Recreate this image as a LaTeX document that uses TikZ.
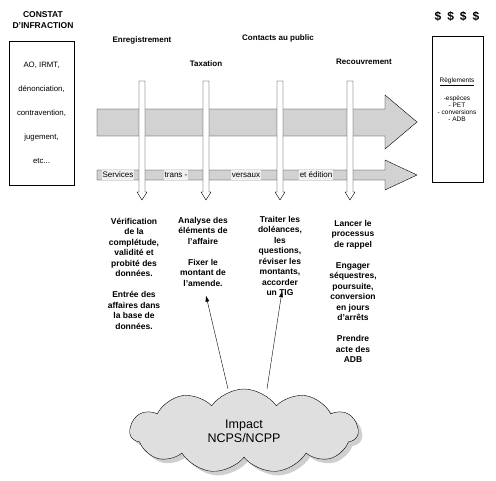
\documentclass[tikz,border=0pt]{standalone}
\usepackage{fontspec}
\setmainfont{Liberation Sans}
\usetikzlibrary{positioning,shapes.symbols,shadows,arrows.meta,calc}

\tikzset{
  band/.style={draw,fill=gray!35},
  pipe/.style={draw,fill=white},
  phase/.style={font=\bfseries\fontsize{8}{9.5}\selectfont},
  task/.style={align=center,anchor=north,inner sep=1pt,font=\bfseries\fontsize{8.5}{10.5}\selectfont},
  tag/.style={fill=gray!12,inner sep=1pt,text height=6pt,text depth=1.5pt,font=\fontsize{8}{9}\selectfont},
  impact/.style={-{Latex[length=6pt,width=4pt]}}
}

\begin{document}
\begin{tikzpicture}[x=1pt,y=-1pt]
\useasboundingbox (0,0) rectangle (496,480);
% boxes left and right
\node (constat) [align=center,font=\bfseries\fontsize{8.5}{10.5}\selectfont] at (43,20) {CONSTAT\\D'INFRACTION};
\node (sources) [draw,minimum width=65pt,minimum height=144pt,align=center,font=\fontsize{7.8}{24}\selectfont] at (41.5,113) {AO, IRMT,\\dénonciation,\\contravention,\\jugement,\\etc...};
\node (dollars) [font=\bfseries\fontsize{12}{14}\selectfont] at (457,16) {\$\hspace{6pt}\$\hspace{6pt}\$\hspace{6pt}\$};
\node (caisse) [draw,minimum width=51pt,minimum height=146pt] at (457.5,109) {};
\node (regl) [align=center,anchor=north,font=\fontsize{6.5}{7}\selectfont] at (457,74) {\underline{Règlements}\\[9pt]-espèces\\- PET\\- conversions\\- ADB};
% the two bands
\draw[band] (97,109) -- (385,109) -- (385,95) -- (417,122) -- (385,149) -- (385,136) -- (97,136) -- cycle;
\draw[band] (97,170) -- (385,170) -- (385,160) -- (417,175) -- (385,190) -- (385,180) -- (97,180) -- cycle;
\node[tag] (services) at (118,175) {Services};
\node[tag] (trans) at (176,175) {trans -};
\node[tag] (versaux) at (246,175) {versaux};
\node[tag] (edition) at (316,175) {et édition};
% phases
\foreach \c in {142,206,280,350}
  \draw[pipe] (\c-3,81) -- (\c+3,81) -- (\c+3,192) -- (\c+5,192) -- (\c,200) -- (\c-5,192) -- (\c-3,192) -- cycle;
\node[phase] (enreg) at (142,40) {Enregistrement};
\node[phase] (taxation) at (206,64) {Taxation};
\node[phase] (contact) at (278,38) {Contacts au public};
\node[phase] (recouv) at (364,62) {Recouvrement};
% tasks
\node[task] (verif) at (134,217) {Vérification\\de la\\complétude,\\validité et\\probité des\\données.\\[10.5pt]Entrée des\\affaires dans\\la base de\\données.};
\node[task] (analyse) at (203,216) {Analyse des\\éléments de\\l'affaire\\[10.5pt]Fixer le\\montant de\\l'amende.};
\node[task] (traiter) at (280,215) {Traiter les\\doléances,\\les\\questions,\\réviser les\\montants,\\accorder\\un TIG};
\node[task] (rappel) at (353,219) {Lancer le\\processus\\de rappel\\[10.5pt]Engager\\séquestres,\\poursuite,\\conversion\\en jours\\d'arrêts\\[10.5pt]Prendre\\acte des\\ADB};
% impact
\node (cloud) [cloud,cloud puffs=11,cloud puff arc=110,aspect=2.7,minimum width=228pt,minimum height=84pt,draw,fill=gray!25,drop shadow={fill=gray!75,shadow xshift=4pt,shadow yshift=-4pt},align=center,font=\fontsize{12.5}{14}\selectfont] at (244,431) {Impact\\NCPS/NCPP};
\draw[impact] ($(cloud.north)+(-16,0)$) -- ($(analyse.south)+(3,8)$);
\draw[impact] ($(cloud.north)+(23,0)$) -- ($(traiter.south)+(2,-6)$);
\end{tikzpicture}
\end{document}
